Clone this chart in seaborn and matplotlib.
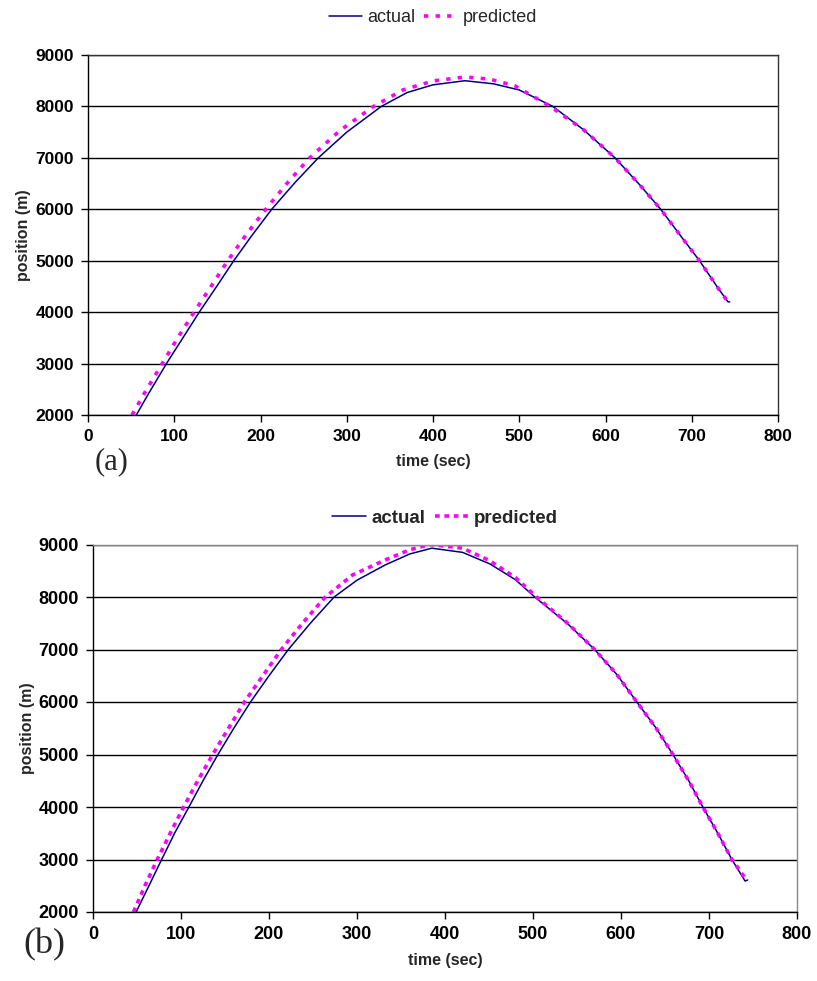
import matplotlib
matplotlib.use("Agg")
import matplotlib.pyplot as plt
import seaborn as sns

# panel (a): time (sec) / position (m)
a_act_t = [56, 70, 91, 110, 129, 150, 169, 190, 213, 240, 267, 300, 340, 370, 400,
           437, 470, 500, 539, 575, 611, 640, 664, 690, 709, 730, 742, 744]
a_act_y = [2000, 2410, 3000, 3500, 4000, 4520, 5000, 5490, 6000, 6520, 7000, 7500, 8000, 8270, 8420,
           8500, 8440, 8320, 8000, 7540, 7000, 6470, 6000, 5420, 5000, 4480, 4200, 4200]
a_pred_t = [51, 66, 86, 104, 123, 143, 162, 184, 206, 231, 257, 292, 331, 365, 400,
            437, 466, 495, 536, 575, 611, 640, 664, 690, 709, 730, 742, 744]
a_pred_y = [2000, 2440, 3000, 3500, 4000, 4510, 5000, 5520, 6000, 6510, 7000, 7530, 8000, 8320, 8495,
            8573, 8530, 8400, 8000, 7540, 7000, 6470, 6000, 5420, 5000, 4480, 4200, 4230]

# panel (b)
b_act_t = [49, 63, 78, 93, 109, 125, 142, 160, 179, 200, 222, 247, 274, 300, 332, 360,
           385, 420, 451, 480, 502, 540, 570, 595, 618, 640, 659, 677, 693, 710, 726, 741, 744]
b_act_y = [2000, 2480, 3000, 3510, 4000, 4500, 5000, 5500, 6000, 6500, 7000, 7500, 8000, 8320, 8610, 8820,
           8930, 8850, 8630, 8330, 8000, 7480, 7000, 6530, 6000, 5500, 5000, 4500, 4000, 3500, 3000, 2590, 2610]
b_pred_t = [46, 59, 73, 88, 103, 119, 136, 154, 172, 193, 214, 238, 264, 295, 332, 360,
            383, 420, 451, 480, 504, 540, 570, 595, 618, 640, 659, 677, 693, 710, 726, 743]
b_pred_y = [2000, 2500, 3000, 3510, 4000, 4500, 5000, 5500, 6000, 6500, 7000, 7500, 8000, 8420, 8705, 8900,
            9000, 8930, 8690, 8370, 8000, 7490, 7000, 6530, 6000, 5500, 5000, 4500, 4000, 3500, 3000, 2600]

x_ticks = list(range(0, 801, 100))
y_ticks = list(range(2000, 9001, 1000))

sns.set_style("white")
plt.rcParams["font.family"] = ["Liberation Sans", "DejaVu Sans"]


def draw_panel(ax, t_act, y_act, t_pred, y_pred, dash, frame_col, tick_size):
    sns.lineplot(x=t_act, y=y_act, ax=ax, color="#000080", lw=1.1,
                 sort=False, estimator=None, label="actual")
    sns.lineplot(x=t_pred, y=y_pred, ax=ax, color="#FF00FF", lw=2.6,
                 linestyle=dash, sort=False, estimator=None, label="predicted")
    ax.set_xlim(0, 800)
    ax.set_ylim(2000, 9000)
    ax.set_xticks(x_ticks)
    ax.set_yticks(y_ticks)
    ax.yaxis.grid(True, color="black", lw=1)
    ax.xaxis.grid(False)
    for side in ["left", "bottom"]:
        ax.spines[side].set_color("black")
        ax.spines[side].set_linewidth(1)
    for side in ["top", "right"]:
        ax.spines[side].set_color(frame_col)
        ax.spines[side].set_linewidth(1)
    ax.tick_params(direction="out", length=5, width=1, colors="black",
                   labelsize=tick_size, pad=5, bottom=True, left=True)
    for lab in ax.get_xticklabels() + ax.get_yticklabels():
        lab.set_fontweight("bold")
    ax.set_xlabel("time (sec)", fontsize=11.5, fontweight="bold", labelpad=7)
    ax.set_ylabel("position (m)", fontsize=11.5, fontweight="bold", labelpad=3)
    handles, labels = ax.get_legend_handles_labels()
    ax.get_legend().remove()
    return handles, labels


fig = plt.figure(figsize=(8.17, 9.81), dpi=100)
ax_a = fig.add_axes([88 / 817, 1 - 415 / 981, 690 / 817, 360 / 981])
ax_b = fig.add_axes([93 / 817, 1 - 912 / 981, 704 / 817, 367.5 / 981])

h, l = draw_panel(ax_a, a_act_t, a_act_y, a_pred_t, a_pred_y, (0, (1.2, 2.0)), "#333333", 12.5)
fig.legend(h, l, loc="center", bbox_to_anchor=(433 / 817, 1 - 18 / 981), ncol=2,
           frameon=False, fontsize=13, handlelength=1.8, handletextpad=0.3,
           columnspacing=0.5)

h, l = draw_panel(ax_b, b_act_t, b_act_y, b_pred_t, b_pred_y, (0, (1.3, 1.3)), "#888888", 13)
fig.legend(h, l, loc="center", bbox_to_anchor=(445 / 817, 1 - 518 / 981), ncol=2,
           frameon=False, handlelength=1.8, handletextpad=0.3, columnspacing=0.5,
           prop={"size": 13.5, "weight": "bold"})

fig.text(112 / 817, 1 - 462 / 981, "(a)", fontsize=22, ha="center", va="center",
         family=["Liberation Serif", "DejaVu Serif"])
fig.text(44 / 817, 1 - 945 / 981, "(b)", fontsize=26, ha="center", va="center",
         family=["Liberation Serif", "DejaVu Serif"])

fig.savefig("out.png", dpi=100)
